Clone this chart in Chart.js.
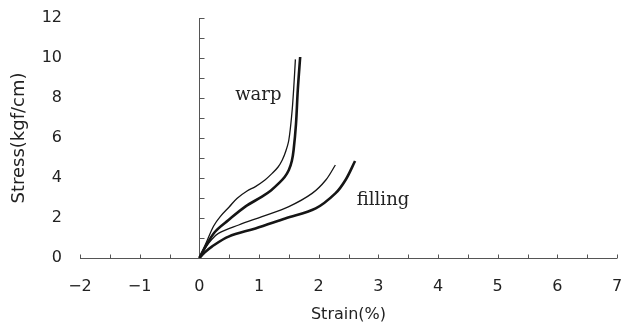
<!DOCTYPE html>
<html>
<head>
<meta charset="utf-8">
<title>Stress-strain</title>
<script src="https://cdn.jsdelivr.net/npm/chart.js"></script>
<style>
  html, body { margin: 0; padding: 0; background: #fff; }
  #wrap { width: 624px; height: 329px; }
</style>
</head>
<body>
<div id="wrap"><canvas id="chart"></canvas></div>
<script>
// values (strain %, stress kgf/cm)
const warpThinX = [0, 0.12, 0.24, 0.35, 0.50, 0.63, 0.80, 0.94, 1.10, 1.22, 1.32, 1.39, 1.45, 1.50, 1.55, 1.58, 1.61];
const warpThinY = [0, 0.8, 1.6, 2.07, 2.55, 2.98, 3.35, 3.57, 3.9, 4.23, 4.55, 4.9, 5.35, 5.9, 7.2, 8.4, 9.93];

const warpThickX = [0, 0.10, 0.26, 0.49, 0.77, 1.05, 1.20, 1.33, 1.43, 1.50, 1.55, 1.58, 1.62, 1.65, 1.69];
const warpThickY = [0, 0.55, 1.3, 1.9, 2.57, 3.07, 3.38, 3.73, 4.05, 4.4, 4.85, 5.4, 6.7, 8.4, 10.05];

const fillingThinX = [0, 0.10, 0.20, 0.32, 0.66, 1.05, 1.50, 1.89, 2.12, 2.28];
const fillingThinY = [0, 0.5, 0.9, 1.23, 1.65, 2.07, 2.57, 3.23, 3.9, 4.65];

const fillingThickX = [0, 0.08, 0.21, 0.49, 0.94, 1.44, 1.95, 2.28, 2.45, 2.61];
const fillingThickY = [0, 0.25, 0.57, 1.07, 1.48, 1.98, 2.48, 3.23, 3.9, 4.85];

const xMin = -2, xMax = 7, xStep = 1, xMinorStep = 0.5;
const yMin = 0, yMax = 12, yStep = 2, yMinorStep = 1;

function toPoints(xs, ys) {
  return xs.map((x, i) => ({ x: x, y: ys[i] }));
}

// axis lines drawn through the origin, ticks pointing inward
const crossAxes = {
  id: 'crossAxes',
  beforeDatasetsDraw(chart) {
    const { ctx, scales: { x, y } } = chart;
    const x0 = Math.round(x.getPixelForValue(0)) + 0.5;
    const y0 = Math.round(y.getPixelForValue(0)) + 0.5;
    ctx.save();
    ctx.strokeStyle = '#555';
    ctx.lineWidth = 1;
    ctx.beginPath();
    ctx.moveTo(x.getPixelForValue(xMin), y0);
    ctx.lineTo(x.getPixelForValue(xMax), y0);
    for (let v = xMin; v <= xMax + 1e-9; v += xMinorStep) {
      const px = Math.round(x.getPixelForValue(v)) + 0.5;
      ctx.moveTo(px, y0);
      ctx.lineTo(px, y0 - 4);
    }
    ctx.moveTo(x0, y0);
    ctx.lineTo(x0, y.getPixelForValue(yMax));
    for (let v = yMin + yMinorStep; v <= yMax + 1e-9; v += yMinorStep) {
      const py = Math.round(y.getPixelForValue(v)) + 0.5;
      ctx.moveTo(x0, py);
      ctx.lineTo(x0 + 5, py);
    }
    ctx.stroke();
    ctx.restore();
  },
  afterDatasetsDraw(chart) {
    const { ctx, scales: { x, y } } = chart;
    ctx.save();
    ctx.fillStyle = '#222';
    ctx.font = '18px "DejaVu Serif"';
    ctx.textBaseline = 'alphabetic';
    ctx.fillText('warp', x.getPixelForValue(0.6), y.getPixelForValue(7.9));
    ctx.fillText('filling', x.getPixelForValue(2.64), y.getPixelForValue(2.65));
    ctx.restore();
  }
};

const lineStyle = { borderColor: '#151515', pointRadius: 0, tension: 0.35, fill: false };
const tickFont = { family: 'DejaVu Sans', size: 16 };
const minusSign = v => String(v).replace('-', '\u2212');

new Chart(document.getElementById('chart'), {
  type: 'line',
  data: {
    datasets: [
      { label: 'warp 1', data: toPoints(warpThinX, warpThinY), borderWidth: 1.3, ...lineStyle },
      { label: 'warp 2', data: toPoints(warpThickX, warpThickY), borderWidth: 2.6, ...lineStyle },
      { label: 'filling 1', data: toPoints(fillingThinX, fillingThinY), borderWidth: 1.3, ...lineStyle },
      { label: 'filling 2', data: toPoints(fillingThickX, fillingThickY), borderWidth: 2.6, ...lineStyle }
    ]
  },
  options: {
    responsive: true,
    maintainAspectRatio: false,
    animation: false,
    layout: { padding: { top: 18, right: 7, left: 0, bottom: 0 } },
    plugins: { legend: { display: false }, tooltip: { enabled: false } },
    scales: {
      x: {
        type: 'linear',
        min: xMin, max: xMax,
        border: { display: false },
        grid: { display: false, drawTicks: false },
        ticks: { stepSize: xStep, padding: 19, color: '#222', font: tickFont, callback: minusSign },
        title: { display: true, text: 'Strain(%)', color: '#222', font: tickFont, padding: { top: 0, bottom: 5 } },
        afterFit(scale) {
          scale.height = 71;
          scale.paddingLeft = 0;
          scale.paddingRight = 0;
        }
      },
      y: {
        type: 'linear',
        min: yMin, max: yMax,
        border: { display: false },
        grid: { display: false, drawTicks: false },
        ticks: { stepSize: yStep, padding: 18, color: '#222', font: tickFont },
        title: { display: true, text: 'Stress(kgf/cm)', color: '#222', font: { family: 'DejaVu Sans', size: 18 }, padding: { top: 9, bottom: 0 } },
        afterFit(scale) {
          scale.width = 80;
          scale.paddingTop = 0;
          scale.paddingBottom = 0;
        }
      }
    }
  },
  plugins: [crossAxes]
});
</script>
</body>
</html>
